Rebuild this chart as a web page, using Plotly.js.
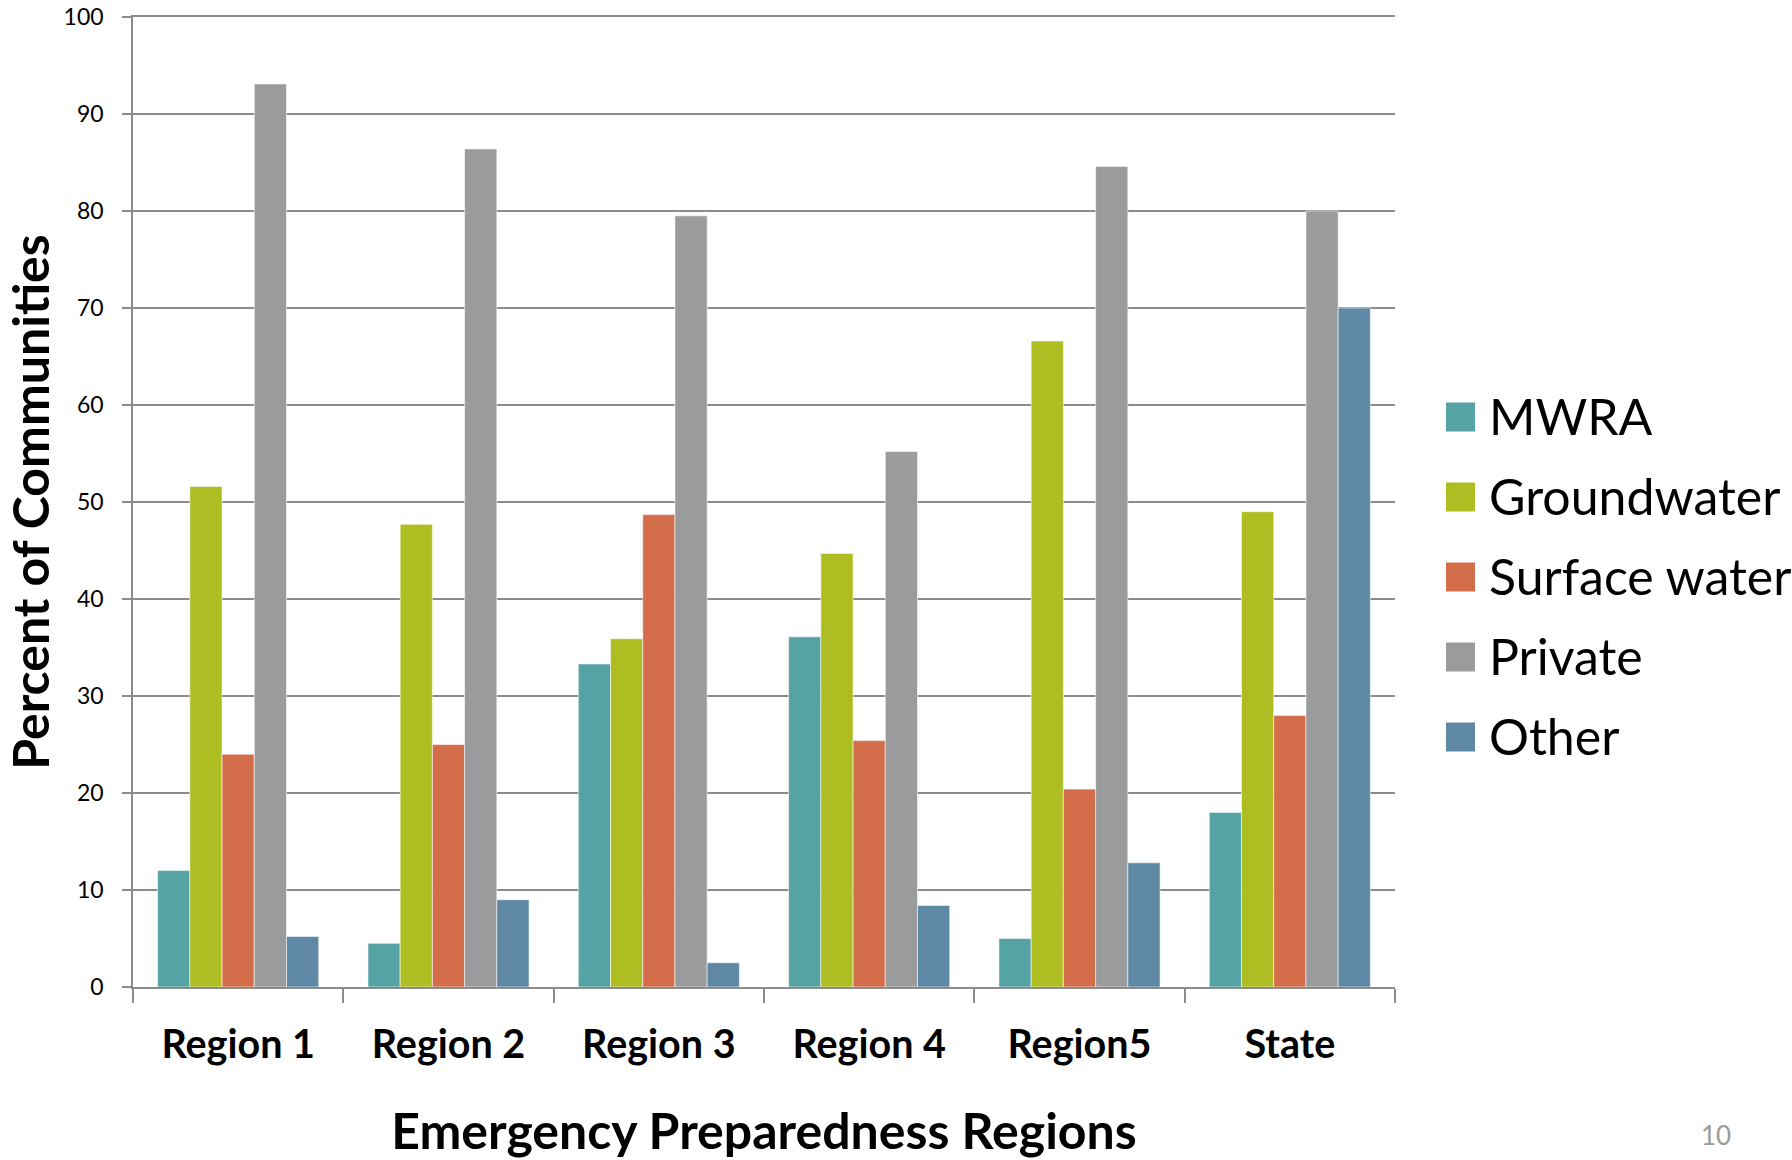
<!DOCTYPE html>
<html>
<head>
<meta charset="utf-8">
<script src="https://cdn.plot.ly/plotly-3.0.1.min.js"></script>
<style>html,body{margin:0;padding:0;background:#fff;}#chart{width:1792px;height:1160px;}</style>
</head>
<body>
<div id="chart"></div>
<script>
const categories = ['Region 1', 'Region 2', 'Region 3', 'Region 4', 'Region5', 'State'];
const seriesNames = ['MWRA', 'Groundwater', 'Surface water', 'Private', 'Other'];
const mwra        = [12.0, 4.5, 33.3, 36.1, 5.0, 18.0];
const groundwater = [51.6, 47.7, 35.9, 44.7, 66.6, 49.0];
const surfaceWater= [24.0, 25.0, 48.7, 25.4, 20.4, 28.0];
const privateWells= [93.1, 86.4, 79.5, 55.2, 84.6, 80.0];
const other       = [5.2, 9.0, 2.5, 8.4, 12.8, 70.0];
const yTicks = [0, 10, 20, 30, 40, 50, 60, 70, 80, 90, 100];

const colors = ['#55A3A4', '#AEBE22', '#D46E4A', '#9A9B9D', '#5E88A4'];
const seriesValues = [mwra, groundwater, surfaceWater, privateWells, other];

const FONT = 'Lato, "Open Sans", sans-serif';
const W = 1792, H = 1160;
const M = {l: 133, r: 397, t: 17, b: 173};
const plotW = W - M.l - M.r, plotH = H - M.t - M.b;
const px2x = p => (p - M.l) / plotW;
const py2y = p => (H - M.b - p) / plotH;

const traces = seriesNames.map((name, i) => ({
  type: 'bar',
  name: name,
  x: categories,
  y: seriesValues[i],
  marker: {color: colors[i], line: {color: 'rgba(255,255,255,0.55)', width: 1}},
  showlegend: false,
  hoverinfo: 'x+y+name'
}));

// Legend drawn as shapes + annotations (big swatches like the original)
const shapes = [];
const annotations = [];
seriesNames.forEach((name, i) => {
  const cy = 417 + i * 80;
  shapes.push({
    type: 'rect', xref: 'paper', yref: 'paper',
    x0: px2x(1446), x1: px2x(1475), y0: py2y(cy + 14.5), y1: py2y(cy - 14.5),
    fillcolor: colors[i], line: {width: 0}
  });
  annotations.push({
    xref: 'paper', yref: 'paper', x: px2x(1487), y: py2y(cy - 1),
    xanchor: 'left', yanchor: 'middle', showarrow: false,
    text: name, font: {family: FONT, size: 50, color: '#000'}
  });
});
annotations.push({
  xref: 'paper', yref: 'paper', x: px2x(1716), y: py2y(1135),
  xanchor: 'center', yanchor: 'middle', showarrow: false,
  text: '10', font: {family: FONT, size: 26, color: '#9a9a9a'}
});

const layout = {
  width: W, height: H,
  margin: M,
  paper_bgcolor: '#fff', plot_bgcolor: '#fff',
  barmode: 'group', bargap: 0.234, bargroupgap: 0,
  font: {family: FONT, color: '#000'},
  showlegend: false,
  xaxis: {
    type: 'category',
    tickson: 'boundaries',
    ticks: 'outside', ticklen: 14, tickwidth: 1.5, tickcolor: '#8c8c8c',
    showline: true, mirror: true, linecolor: '#8c8c8c', linewidth: 1.5,
    showgrid: false, zeroline: false,
    tickfont: {family: FONT, size: 39.5, weight: 'bold', color: '#000'},
    ticklabelstandoff: 22,
    automargin: false,
    title: {text: 'Emergency Preparedness Regions', font: {family: FONT, size: 50, weight: 'bold', color: '#000'}, standoff: 52}
  },
  yaxis: {
    range: [0, 100],
    tickvals: yTicks,
    ticks: 'outside', ticklen: 9, tickwidth: 1.5, tickcolor: '#8c8c8c',
    showline: true, linecolor: '#8c8c8c', linewidth: 1.5,
    showgrid: true, gridcolor: '#8c8c8c', gridwidth: 1.5,
    zeroline: false,
    tickfont: {family: FONT, size: 23, color: '#000'},
    ticklabelstandoff: 14,
    ticklabeloverflow: 'allow',
    automargin: false,
    title: {text: 'Percent of Communities', font: {family: FONT, size: 50, weight: 'bold', color: '#000'}, standoff: 18}
  },
  shapes: shapes,
  annotations: annotations
};

Plotly.newPlot('chart', traces, layout, {displayModeBar: false, staticPlot: false});
</script>
</body>
</html>
